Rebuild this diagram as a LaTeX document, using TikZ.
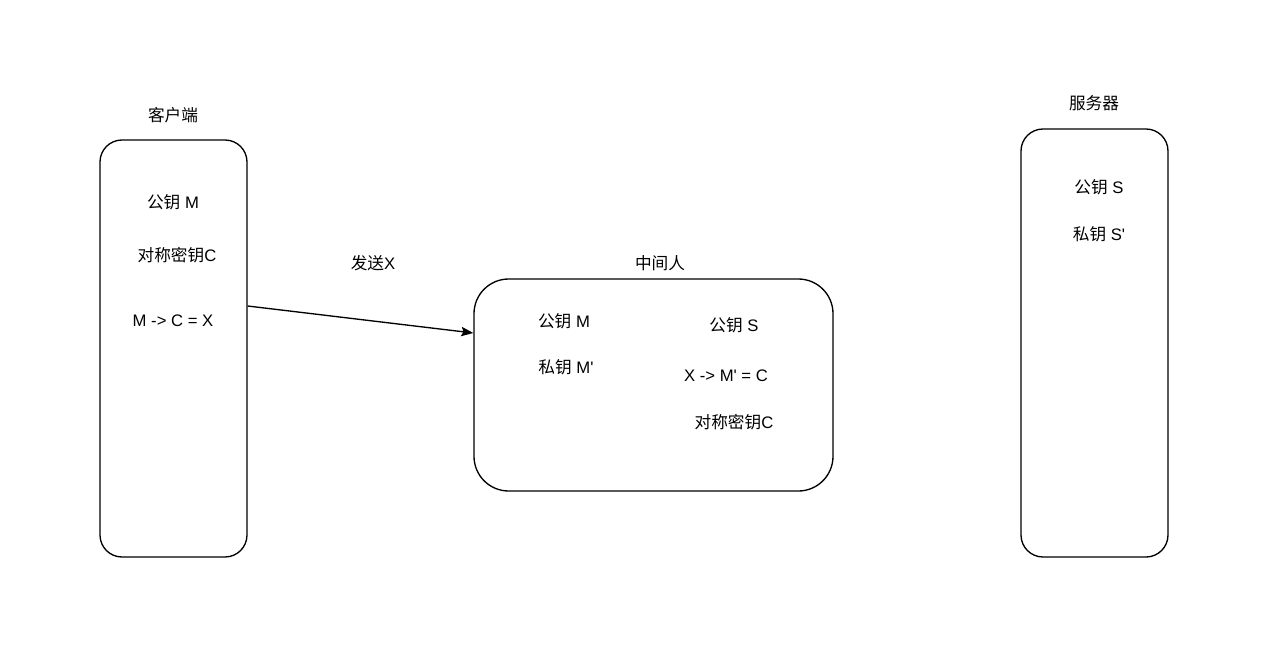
\documentclass[tikz,border=0pt]{standalone}
\usepackage{fontspec}
\setmainfont{Liberation Sans}
\newfontfamily\cjk{Noto Sans CJK SC}
\usetikzlibrary{arrows.meta}

\tikzset{every picture/.style={line width=1pt},
  party/.style={draw,rounded corners=16.5pt,minimum width=110.25pt,inner sep=0pt},
  txt/.style={inner sep=0.75pt,font=\fontsize{12.5}{14}\selectfont}}

\begin{document}
\begin{tikzpicture}[x=0.75pt,y=0.75pt,yscale=-1,xscale=1]
	\useasboundingbox (0,0) rectangle (1268,646);

	%Shape: Rounded Rect [id:client]
	\node [party,minimum height=312.75pt] (client) at (173.5,348.5) {};
	%Shape: Rounded Rect [id:server]
	\node [party,minimum height=321pt] (server) at (1094.5,343) {};
	%Shape: Rounded Rect [id:mitm]
	\node [party,rounded corners=26pt,minimum width=269.25pt,minimum height=159pt] (mitm) at (653.5,385) {};

	%Straight Lines [id:send]
	\draw [-{Stealth[length=9pt,width=7pt,inset=1.5pt]}] (client.east |- 0,306) -- (mitm.west |- 0,333) ;

	% Text Node
	\node [txt] (clientT) at (173,115) {\cjk 客户端};
	% Text Node
	\node [txt] (serverT) at (1094,103) {\cjk 服务器};
	% Text Node
	\node [txt] (mitmT) at (660,263) {\cjk 中间人};
	% Text Node
	\node [txt] (sendT) at (373,263) {{\cjk 发送}X};
	% Text Node
	\node [txt] (cPub) at (173,202) {{\cjk 公钥} M};
	% Text Node
	\node [txt] (cSym) at (177,255) {{\cjk 对称密钥}C};
	% Text Node
	\node [txt] (cEnc) at (173,321) {M -> C = X};
	% Text Node
	\node [txt] (sPub) at (1099,187) {{\cjk 公钥} S};
	% Text Node
	\node [txt] (sPriv) at (1099,234) {{\cjk 私钥} S\textquotesingle};
	% Text Node
	\node [txt] (mPubM) at (564,321) {{\cjk 公钥} M};
	% Text Node
	\node [txt] (mPrivM) at (566,367) {{\cjk 私钥} M\textquotesingle};
	% Text Node
	\node [txt] (mPubS) at (734,325) {{\cjk 公钥} S};
	% Text Node
	\node [txt] (mDec) at (726,376) {X -> M\textquotesingle{} = C};
	% Text Node
	\node [txt] (mSym) at (734,422) {{\cjk 对称密钥}C};
\end{tikzpicture}
\end{document}
